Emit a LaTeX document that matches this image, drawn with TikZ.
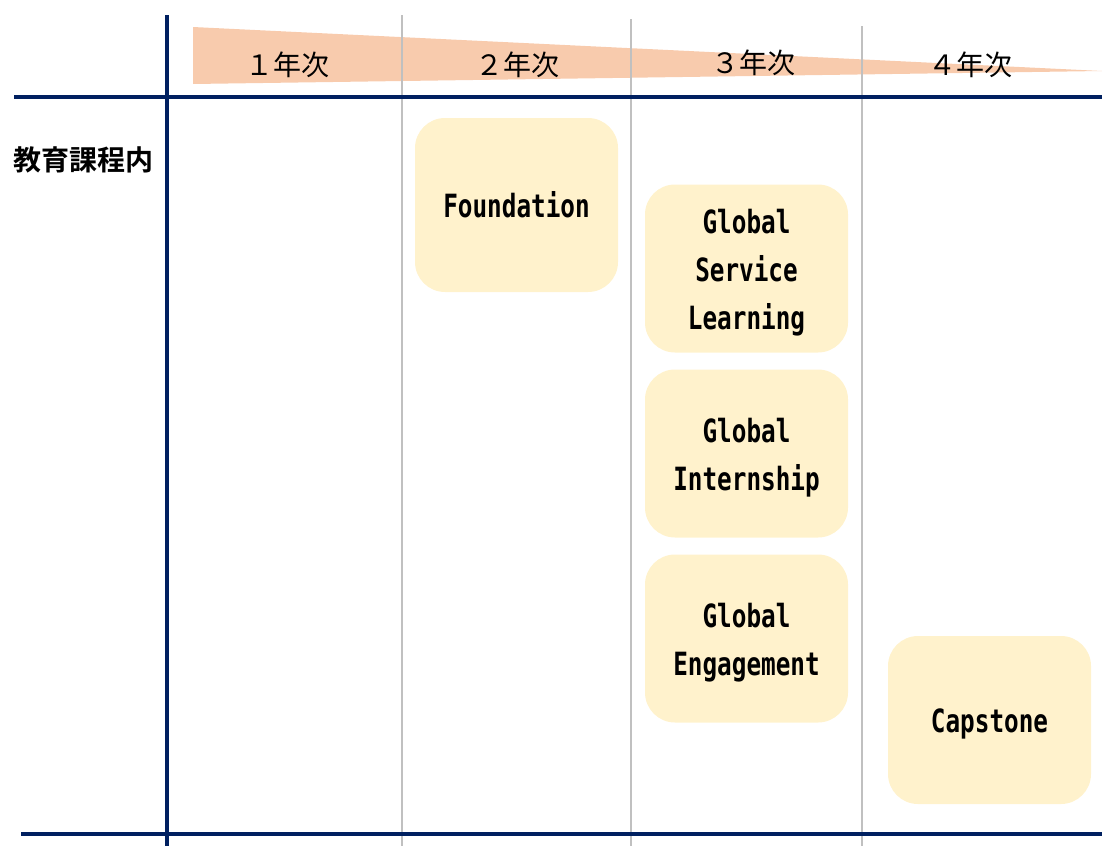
\documentclass[tikz,border=0pt]{standalone}
\usepackage{fontspec}
\usepackage{graphicx}
\usepackage{xcolor}
\usepackage{tikz}
\newfontfamily\jpfont{Noto Sans CJK JP}
\newfontfamily\jpbold{Noto Sans CJK JP Bold}
\newfontfamily\boxfont{DejaVu Sans Mono Bold}
\definecolor{navy}{HTML}{002060}
\definecolor{wedge}{HTML}{F8CBAD}
\definecolor{cream}{HTML}{FFF2CC}
\definecolor{grid}{HTML}{C0C0C0}
\newcommand{\boxtxt}[1]{\raisebox{-3pt}[\height][\depth]{\scalebox{0.76}[1]{\begin{tabular}{@{}c@{}}#1\end{tabular}}}}

\begin{document}
\begin{tikzpicture}[x=1pt, y=-1pt,
  main/.style = {fill=cream, rounded corners=30pt, minimum width=203pt, minimum height=168pt, inner sep=0pt, font=\boxfont\fontsize{32}{48}\selectfont},
  year/.style = {font=\jpfont\fontsize{28}{30}\selectfont},
  rule/.style = {navy, line width=4pt},
  col/.style = {grid, line width=2pt}]
\useasboundingbox (0,0) rectangle (1102,846);

% header wedge
\fill[wedge] (193,27) -- (1102,71) -- (193,84) -- cycle;

% column lines
\draw[col] (402,15) -- (402,846);
\draw[col] (631,19) -- (631,846);
\draw[col] (862,26) -- (862,846);

% main rules
\draw[rule] (167,15) -- (167,846);
\draw[rule] (14,97) -- (1102,97);
\draw[rule] (21,834) -- (1102,834);

% years
\node[year] (Y1) at (287,65) {１年次};
\node[year] (Y2) at (517,65) {２年次};
\node[year] (Y3) at (753,63) {３年次};
\node[year] (Y4) at (970,65) {４年次};

\node[font=\jpbold\fontsize{28}{30}\selectfont] (row) at (83,160) {教育課程内};

% programmes
\node[main, minimum height=174pt] (F) at (516.5,205) {\boxtxt{Foundation}};
\node[main] (GSL) at (746.5,268.5) {\boxtxt{Global\\Service\\Learning}};
\node[main] (GI) at (746.5,453.5) {\boxtxt{Global\\Internship}};
\node[main] (GE) at (746.5,638.5) {\boxtxt{Global\\Engagement}};
\node[main] (C) at (989.5,720) {\boxtxt{Capstone}};
\end{tikzpicture}
\end{document}
